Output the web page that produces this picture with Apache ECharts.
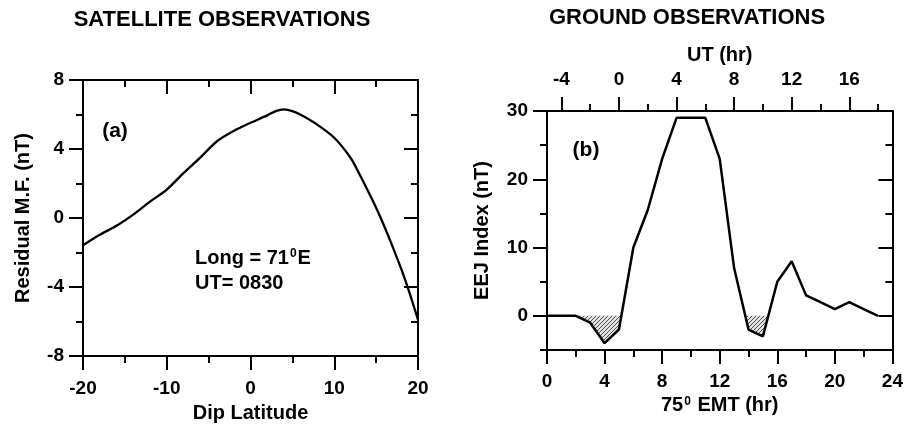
<!DOCTYPE html>
<html>
<head>
<meta charset="utf-8">
<script src="https://cdn.jsdelivr.net/npm/echarts@6/dist/echarts.min.js"></script>
<style>html,body{margin:0;padding:0;background:#fff;}#c{width:906px;height:428px;}</style>
</head>
<body>
<div id="c"></div>
<script>
// ---- Data ----
const satLat = [-20,-18,-16,-14,-12,-10,-8,-6,-4,-2,0,2,3,4,5,6,8,10,12,13,14,15,16,17,18,19,20];
const satRes = [-1.58,-0.97,-0.45,0.2,0.95,1.65,2.6,3.5,4.45,5.05,5.52,5.95,6.2,6.3,6.2,5.98,5.4,4.65,3.45,2.55,1.6,0.6,-0.5,-1.7,-2.95,-4.35,-5.9];
const emtHr = [0,1,2,3,4,5,6,7,8,9,10,11,12,13,14,15,16,17,18,19,20,21,22,23];
const eejIdx = [0,0,0,-1,-4,-2,10,15.5,23,29,29,29,23,7,-2,-3,5,8,3,2,1,2,1,0];
const satXTicks = [-20,-10,0,10,20];
const satYTicks = [-8,-4,0,4,8];
const emtTicks = [0,4,8,12,16,20,24];
const utLabels = [-4,0,4,8,12,16];
const utMinor = [-4,-2,0,2,4,6,8,10,12,14,16,18];
const eejMajor = [0,10,20,30];
const eejMinor = [-5,5,15,25];

const FONT = 'Liberation Sans, Arial, Helvetica, sans-serif';

function pairs(xs, ys){ return xs.map((x,i)=>[x, ys[i]]); }
// negative part of the EEJ curve (with zero crossings) for hatching
function negativePart(xs, ys){
  const out = [];
  for (let i=0;i<xs.length;i++){
    if (i>0){
      const y0=ys[i-1], y1=ys[i];
      if ((y0<0 && y1>0) || (y0>0 && y1<0)){
        const xc = xs[i-1] + (xs[i]-xs[i-1]) * (0-y0)/(y1-y0);
        out.push([xc,0]);
      }
    }
    out.push([xs[i], Math.min(ys[i],0)]);
  }
  return out;
}

// hatch pattern
const pc = document.createElement('canvas');
pc.width = 4; pc.height = 4;
const pctx = pc.getContext('2d');
pctx.fillStyle = '#e0e0e0'; pctx.fillRect(0,0,4,4);
pctx.strokeStyle = '#555'; pctx.lineWidth = 1;
pctx.beginPath();
pctx.moveTo(0,4); pctx.lineTo(4,0);
pctx.moveTo(-1,1); pctx.lineTo(1,-1);
pctx.moveTo(3,5); pctx.lineTo(5,3);
pctx.stroke();

const axLine = {show:true, onZero:false, lineStyle:{color:'#000', width:2}};
const noLine = {show:false, onZero:false};
const lbl = (extra) => Object.assign({color:'#000', fontFamily:FONT, fontWeight:'bold', fontSize:19}, extra||{});
const nameStyle = {color:'#000', fontFamily:FONT, fontWeight:'bold', fontSize:20};
const tk = {color:'#000', width:2};

const chart = echarts.init(document.getElementById('c'), null, {renderer:'canvas'});
chart.setOption({
  animation:false,
  backgroundColor:'#fff',
  grid:[
    {left:83, top:80, width:335, height:279},
    {left:547, top:111, width:346, height:239}
  ],
  xAxis:[
    {type:'value', gridIndex:0, position:'bottom', min:-20, max:20, interval:10,
     axisLine:axLine, splitLine:{show:false},
     axisTick:{show:true, length:14, lineStyle:tk},
     minorTick:{show:true, splitNumber:2, length:7, lineStyle:tk},
     axisLabel:lbl({margin:23, customValues:satXTicks}),
     name:'Dip Latitude', nameLocation:'middle', nameGap:45, nameTextStyle:nameStyle},
    {type:'value', gridIndex:0, position:'top', min:-20, max:20, interval:10,
     axisLine:axLine, splitLine:{show:false},
     axisTick:{show:true, inside:true, length:14, lineStyle:tk},
     minorTick:{show:true, splitNumber:2, length:7, lineStyle:tk},
     axisLabel:{show:false}},
    {type:'value', gridIndex:1, position:'bottom', min:0, max:24, interval:4,
     axisLine:axLine, splitLine:{show:false},
     axisTick:{show:true, length:14, lineStyle:tk},
     minorTick:{show:true, splitNumber:2, length:7, lineStyle:tk},
     axisLabel:lbl({margin:22, customValues:emtTicks}),
     name:'75{sup|0} EMT (hr)', nameLocation:'middle', nameGap:38,
     nameTextStyle:Object.assign({}, nameStyle, {rich:{sup:{fontFamily:FONT, fontWeight:'bold', fontSize:12, color:'#000', verticalAlign:'top', padding:[0,1,8,1]}}})},
    {type:'value', gridIndex:1, position:'top', min:-5, max:19,
     axisLine:axLine, splitLine:{show:false},
     axisTick:{show:true, length:14, customValues:utLabels, lineStyle:tk},
     axisLabel:lbl({margin:22, customValues:utLabels}),
     name:'UT (hr)', nameLocation:'middle', nameGap:42, nameTextStyle:nameStyle},
    {type:'value', gridIndex:1, position:'top', min:-5, max:19,
     axisLine:noLine, splitLine:{show:false},
     axisTick:{show:true, length:7, customValues:utMinor, lineStyle:tk},
     axisLabel:{show:false}}
  ],
  yAxis:[
    {type:'value', gridIndex:0, position:'left', min:-8, max:8, interval:4,
     axisLine:axLine, splitLine:{show:false},
     axisTick:{show:true, length:14, lineStyle:tk},
     minorTick:{show:true, splitNumber:2, length:7, lineStyle:tk},
     axisLabel:lbl({margin:19, customValues:satYTicks}),
     name:'Residual M.F. (nT)', nameLocation:'middle', nameGap:50, nameTextStyle:nameStyle},
    {type:'value', gridIndex:0, position:'right', min:-8, max:8, interval:4,
     axisLine:axLine, splitLine:{show:false},
     axisTick:{show:true, inside:true, length:14, lineStyle:tk},
     minorTick:{show:true, splitNumber:2, length:7, lineStyle:tk},
     axisLabel:{show:false}},
    {type:'value', gridIndex:1, position:'left', min:-5, max:30,
     axisLine:axLine, splitLine:{show:false},
     axisTick:{show:true, length:14, customValues:eejMajor, lineStyle:tk},
     axisLabel:lbl({margin:19, customValues:eejMajor}),
     name:'EEJ Index (nT)', nameLocation:'middle', nameGap:55, nameTextStyle:nameStyle},
    {type:'value', gridIndex:1, position:'left', min:-5, max:30,
     axisLine:noLine, splitLine:{show:false},
     axisTick:{show:true, length:7, customValues:eejMinor, lineStyle:tk},
     axisLabel:{show:false}},
    {type:'value', gridIndex:1, position:'right', min:-5, max:30,
     axisLine:axLine, splitLine:{show:false},
     axisTick:{show:true, inside:true, length:14, customValues:eejMajor, lineStyle:tk},
     axisLabel:{show:false}},
    {type:'value', gridIndex:1, position:'right', min:-5, max:30,
     axisLine:noLine, splitLine:{show:false},
     axisTick:{show:true, inside:true, length:7, customValues:eejMinor, lineStyle:tk},
     axisLabel:{show:false}}
  ],
  series:[
    {type:'line', xAxisIndex:0, yAxisIndex:0, data:pairs(satLat, satRes), smooth:0.3,
     symbol:'none', lineStyle:{color:'#000', width:2.3}, z:3},
    {type:'line', xAxisIndex:2, yAxisIndex:2, data:negativePart(emtHr, eejIdx),
     symbol:'none', lineStyle:{width:0, color:'#000'}, z:1,
     areaStyle:{origin:0, opacity:1, color:{image:pc, repeat:'repeat'}}},
    {type:'line', xAxisIndex:2, yAxisIndex:2, data:pairs(emtHr, eejIdx),
     symbol:'none', lineStyle:{color:'#000', width:2.5}, z:3}
  ],
  graphic:[
    {type:'text', x:222, y:20, style:{text:'SATELLITE OBSERVATIONS', fill:'#000', font:'bold 22px '+FONT, textAlign:'center', textVerticalAlign:'middle'}},
    {type:'text', x:687, y:18, style:{text:'GROUND OBSERVATIONS', fill:'#000', font:'bold 22px '+FONT, textAlign:'center', textVerticalAlign:'middle'}},
    {type:'text', x:115, y:131, style:{text:'(a)', fill:'#000', font:'bold 21px '+FONT, textAlign:'center', textVerticalAlign:'middle'}},
    {type:'text', x:586, y:150, style:{text:'(b)', fill:'#000', font:'bold 21px '+FONT, textAlign:'center', textVerticalAlign:'middle'}},
    {type:'text', x:195, y:258, style:{text:'Long = 71{sup|0}E', fill:'#000', fontFamily:FONT, fontWeight:'bold', fontSize:20, textVerticalAlign:'middle',
      rich:{sup:{fontFamily:FONT, fontWeight:'bold', fontSize:12, fill:'#000', verticalAlign:'top', padding:[0,1,8,1]}}}},
    {type:'text', x:195, y:283, style:{text:'UT= 0830', fill:'#000', font:'bold 20px '+FONT, textVerticalAlign:'middle'}}
  ]
});
</script>
</body>
</html>
